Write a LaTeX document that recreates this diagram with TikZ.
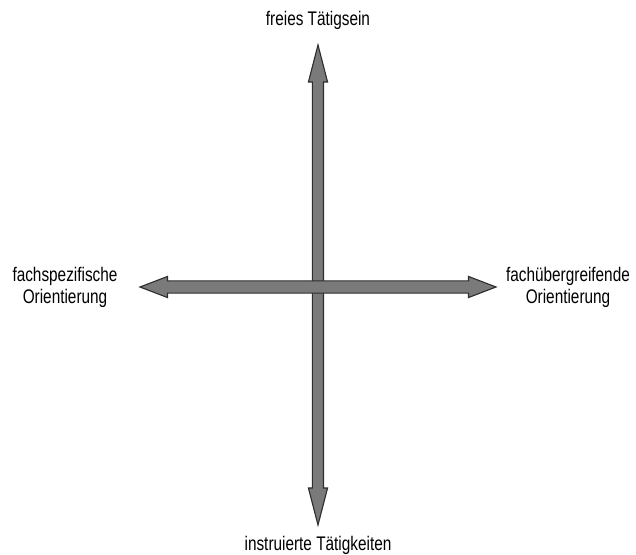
\documentclass[tikz,border=0pt]{standalone}
\usepackage{fontspec}
\setmainfont{Liberation Sans}
\newfontfamily\axisfont[FakeStretch=0.78]{Liberation Sans}
\usetikzlibrary{shapes.arrows}
\definecolor{axisfill}{HTML}{7A7A7A}
\definecolor{axisline}{HTML}{2E2E2E}

\begin{document}
\begin{tikzpicture}[
    axis/.style={double arrow, draw=axisline, fill=axisfill, line width=0.8pt, inner sep=0pt},
    vaxis/.style={axis, rotate=90, minimum height=12cm, inner ysep=0.125cm, minimum width=0.45cm,
        double arrow head extend=0.1cm, double arrow tip angle=29},
    haxis/.style={axis, minimum height=8.9cm, inner ysep=0.14cm, minimum width=0.5cm,
        double arrow head extend=0.11cm, double arrow tip angle=42},
    pole/.style={font=\axisfont\fontsize{14}{15.6}\selectfont, align=center, inner sep=0pt},
]
\useasboundingbox (-7.95,-6.675) rectangle (7.95,7.175);

\coordinate (ctr) at (0,0);

% the two axes
\node[vaxis] (vert) at (0,0.05) {};
\node[haxis] (horz) at (ctr) {};

% poles
\node[pole] (frei) at (0,6.675) {freies Tätigsein};
\node[pole] (instr) at (0,-6.45) {instruierte Tätigkeiten};
\node[pole] (spez) at (-6.325,0) {fachspezifische\\Orientierung};
\node[pole] (ueber) at (6.25,0) {fachübergreifende\\Orientierung};

\end{tikzpicture}
\end{document}
